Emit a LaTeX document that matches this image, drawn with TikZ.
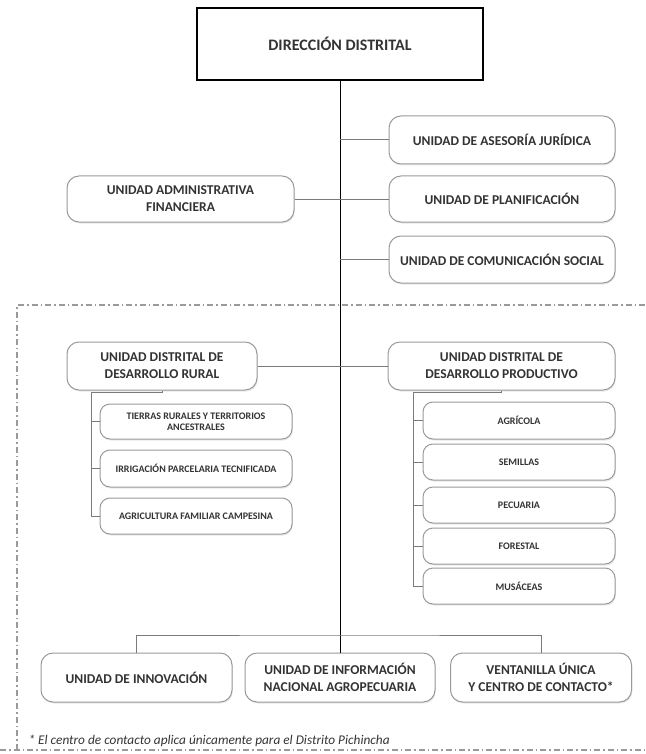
\documentclass[tikz,border=0pt]{standalone}
\usepackage{fontspec}
\setmainfont{Carlito}
\usetikzlibrary{shadows}

\definecolor{texto}{HTML}{333333}
\definecolor{borde}{HTML}{9A9A9A}
\definecolor{enlace}{HTML}{7A7A7A}

\tikzset{
  direccion/.style={draw=black, line width=2pt, minimum width=286pt, minimum height=72pt,
    text=texto, font=\bfseries\fontsize{16}{19}\selectfont},
  unidad/.style={draw=borde, line width=1pt, rounded corners=12pt, fill=white, align=center,
    text=texto, font=\bfseries\fontsize{13.5}{17}\selectfont,
    drop shadow={opacity=0.18, shadow xshift=0.8pt, shadow yshift=-1.5pt}},
  subunidad/.style={unidad, rounded corners=10pt, minimum width=192pt, minimum height=36pt,
    font=\bfseries\fontsize{10}{11}\selectfont},
  enlace/.style={draw=enlace, line width=1pt},
  marco/.style={draw=borde, line width=1.2pt, dash pattern=on 6pt off 3pt on 1.5pt off 3pt}
}

\begin{document}
\begin{tikzpicture}[x=1pt, y=-1pt]
			\useasboundingbox (0,0) rectangle (645,754);

			% Direccion y unidades de apoyo
			\node[direccion] (dir) at (340,44) {DIRECCIÓN DISTRITAL};
			\node[unidad, minimum width=226pt, minimum height=48pt] (juridica) at (502,140) {UNIDAD DE ASESORÍA JURÍDICA};
			\node[unidad, minimum width=226pt, minimum height=46pt] (planif) at (502,199) {UNIDAD DE PLANIFICACIÓN};
			\node[unidad, minimum width=227pt, minimum height=46pt] (admin) at (180.5,199) {UNIDAD ADMINISTRATIVA\\FINANCIERA};
			\node[unidad, minimum width=226pt, minimum height=47pt] (comunic) at (502,259.5) {UNIDAD DE COMUNICACIÓN SOCIAL};

			% Unidades distritales
			\node[unidad, minimum width=190pt, minimum height=48pt] (rural) at (162,366) {UNIDAD DISTRITAL DE\\DESARROLLO RURAL};
			\node[unidad, minimum width=227pt, minimum height=48pt] (product) at (501.5,366) {UNIDAD DISTRITAL DE\\DESARROLLO PRODUCTIVO};

			% Procesos de desarrollo rural
			\node[subunidad, minimum height=35pt] (tierras) at (196,421.5) {TIERRAS RURALES Y TERRITORIOS\\ANCESTRALES};
			\node[subunidad, minimum height=37pt] (riego) at (196,468.5) {IRRIGACIÓN PARCELARIA TECNIFICADA};
			\node[subunidad] (familiar) at (196,516) {AGRICULTURA FAMILIAR CAMPESINA};

			% Procesos de desarrollo productivo
			\node[subunidad, minimum height=37pt] (agricola) at (519,420.5) {AGRÍCOLA};
			\node[subunidad] (semillas) at (519,462) {SEMILLAS};
			\node[subunidad] (pecuaria) at (519,505) {PECUARIA};
			\node[subunidad] (forestal) at (519,546) {FORESTAL};
			\node[subunidad] (musaceas) at (519,586) {MUSÁCEAS};

			% Unidades inferiores
			\node[unidad, minimum width=191pt, minimum height=49pt] (innov) at (136.5,677.5) {UNIDAD DE INNOVACIÓN};
			\node[unidad, minimum width=190pt, minimum height=49pt] (info) at (340,677.5) {UNIDAD DE INFORMACIÓN\\NACIONAL AGROPECUARIA};
			\node[unidad, minimum width=181pt, minimum height=49pt] (ventan) at (541,677.5) {VENTANILLA ÚNICA\\Y CENTRO DE CONTACTO*};

			\node[anchor=west, text=texto, font=\itshape\fontsize{13.3}{15}\selectfont] (nota) at (25,741) {* El centro de contacto aplica únicamente para el Distrito Pichincha};

			% Marco punteado
			\draw[marco] (645,305) -- (17,305) -- (17,750);
			\draw[marco] (0,750) -- (645,750);

			% Linea principal
			\draw[black, line width=1pt] (dir.south) -- (info.north);

			% Enlaces horizontales
			\draw[enlace] (dir.south |- juridica.west) -- (juridica.west);
			\draw[enlace] (admin.east) -- (planif.west);
			\draw[enlace] (dir.south |- comunic.west) -- (comunic.west);
			\draw[enlace] (rural.east) -- (product.west);

			% Enlaces de los procesos
			\coordinate (rs) at (91,392);
			\coordinate (ps) at (413,392);
			\draw[enlace] (rural.south) |- (rs) |- (familiar.west);
			\draw[enlace] (rs |- tierras.west) -- (tierras.west);
			\draw[enlace] (rs |- riego.west) -- (riego.west);
			\draw[enlace] (product.south) |- (ps) |- (musaceas.west);
			\draw[enlace] (ps |- agricola.west) -- (agricola.west);
			\draw[enlace] (ps |- semillas.west) -- (semillas.west);
			\draw[enlace] (ps |- pecuaria.west) -- (pecuaria.west);
			\draw[enlace] (ps |- forestal.west) -- (forestal.west);

			% Barra inferior
			\coordinate (barra) at (340,635);
			\draw[enlace] (innov.north) |- (barra) -| (ventan.north);

\end{tikzpicture}
\end{document}
